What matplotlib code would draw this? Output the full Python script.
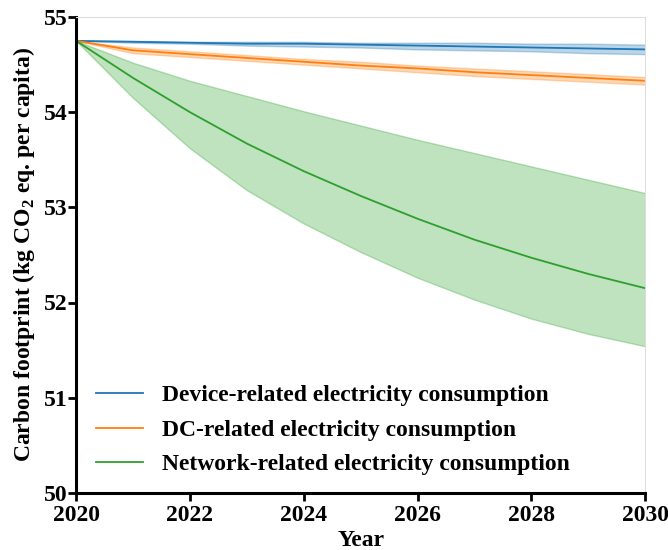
import numpy as np
import matplotlib.pyplot as plt

plt.rcParams['font.family'] = 'Liberation Serif'
plt.rcParams['font.weight'] = 'bold'
plt.rcParams['mathtext.fontset'] = 'custom'
plt.rcParams['mathtext.rm'] = 'Liberation Serif:bold'

years = np.arange(2020, 2031)

device_mid = [54.75, 54.74, 54.73, 54.72, 54.72, 54.71, 54.70, 54.69, 54.68, 54.67, 54.66]
device_lo = [54.75, 54.73, 54.72, 54.70, 54.69, 54.68, 54.66, 54.65, 54.64, 54.62, 54.61]
device_hi = [54.75, 54.75, 54.74, 54.74, 54.74, 54.73, 54.73, 54.73, 54.72, 54.72, 54.71]

dc_mid = [54.75, 54.65, 54.61, 54.57, 54.53, 54.49, 54.46, 54.42, 54.39, 54.36, 54.33]
dc_lo = [54.75, 54.62, 54.58, 54.54, 54.50, 54.46, 54.42, 54.38, 54.35, 54.32, 54.29]
dc_hi = [54.75, 54.68, 54.64, 54.60, 54.56, 54.53, 54.49, 54.46, 54.43, 54.40, 54.37]

net_mid = [54.75, 54.36, 54.00, 53.67, 53.38, 53.12, 52.88, 52.66, 52.47, 52.30, 52.15]
net_lo = [54.75, 54.15, 53.62, 53.18, 52.83, 52.53, 52.26, 52.03, 51.83, 51.67, 51.54]
net_hi = [54.75, 54.52, 54.33, 54.17, 54.01, 53.86, 53.71, 53.57, 53.43, 53.29, 53.15]

labels = ['Device-related electricity consumption',
          'DC-related electricity consumption',
          'Network-related electricity consumption']
colors = ['#1f77b4', '#ff7f0e', '#2ca02c']

fig = plt.figure(figsize=(6.68, 5.5), dpi=100)
ax = fig.add_axes([0.114, 0.104, 0.852, 0.865])

series = [(device_mid, device_lo, device_hi),
          (dc_mid, dc_lo, dc_hi),
          (net_mid, net_lo, net_hi)]
for (mid, lo, hi), lab, c in zip(series, labels, colors):
    ax.fill_between(years, lo, hi, color=c, alpha=0.3, linewidth=1)
    ax.plot(years, mid, color=c, linewidth=1.3, label=lab)

ax.set_xlim(2020, 2030)
ax.set_ylim(50, 55)
ax.set_xticks([2020, 2022, 2024, 2026, 2028, 2030])
ax.set_yticks([50, 51, 52, 53, 54, 55])

for s in ['left', 'bottom']:
    ax.spines[s].set_linewidth(2.2)
    ax.spines[s].set_color('black')
for s in ['top', 'right']:
    ax.spines[s].set_linewidth(0.8)
    ax.spines[s].set_color('#dddddd')

fs = 17
ax.tick_params(axis='both', labelsize=fs, width=2, length=6, direction='out', pad=0)
ax.tick_params(axis='x', pad=2.5)
ax.tick_params(top=False, right=False)

ax.set_xlabel('Year', fontsize=fs, fontweight='bold', labelpad=3)
ax.set_ylabel('Carbon footprint (kg CO$_2$ eq. per capita)', fontsize=fs,
              fontweight='bold', labelpad=5)

leg = ax.legend(loc='lower left', bbox_to_anchor=(-0.003, -0.008), frameon=False,
                fontsize=fs, handlelength=2.0, handletextpad=0.8,
                labelspacing=0.55)

fig.savefig('out.png', dpi=100)
